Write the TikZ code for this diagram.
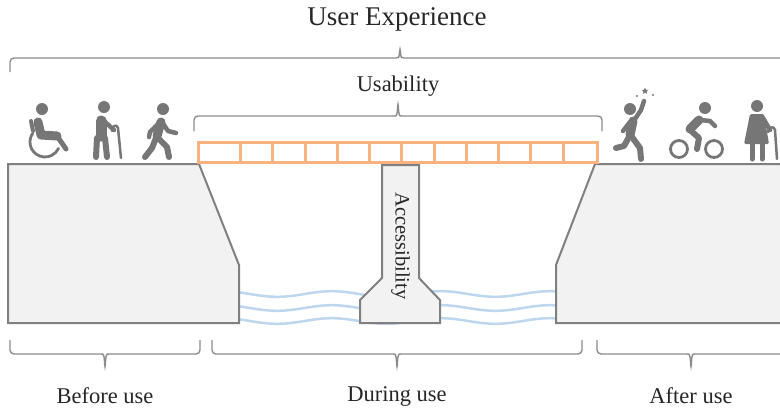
\documentclass[tikz,border=0pt]{standalone}
\usepackage{fontspec}
\setmainfont{Liberation Serif}
\usetikzlibrary{calc,shapes.geometric}
\definecolor{bankgray}{RGB}{242,242,242}
\definecolor{edgegray}{RGB}{128,128,128}
\definecolor{icongray}{RGB}{118,118,118}
\definecolor{deckorange}{RGB}{248,178,128}
\definecolor{waterblue}{RGB}{189,215,238}
\definecolor{bracegray}{RGB}{140,140,140}
\tikzset{%
  bank/.style={draw=edgegray, fill=bankgray, line width=2pt},% banks and pier
  deck/.style={draw=deckorange, line width=3pt},% bridge deck
  wave/.style={draw=waterblue, line width=2.5pt},% river
  brace line/.style={draw=bracegray, line width=1.4pt, rounded corners=4pt},% curly braces
  heading/.style={font=\fontsize{27pt}{31pt}\selectfont, text=black!85},
  stage/.style={font=\fontsize{22.5pt}{26pt}\selectfont, text=black!85},
  limb/.style={draw=icongray, line cap=round, line join=round, line width=#1},% pictogram strokes
  limb/.default=5pt,
  headfill/.style={fill=icongray}% pictogram heads
}
% brace: ends x1, x2; tip x; end y; bar y; tip y
\newcommand*{\spanbrace}[6]{%
  \draw[brace line] (#1,#4) -- (#1,#5) -- (#3-8,#5) .. controls (#3-1,#5) .. (#3,#6)
    .. controls (#3+1,#5) .. (#3+8,#5) -- (#2,#5) -- (#2,#4);}

\begin{document}
\begin{tikzpicture}[x=1pt, y=-1pt]
\useasboundingbox (0,0) rectangle (780,410);

% river
\foreach \wy in {294,308,321}
  \draw[wave] plot[domain=239:556, samples=90, smooth] (\x, {\wy+2.8*sin((\x-250)*3.3)});

% banks and pier
\draw[bank] (8,164) -- (199,164) -- (239,265) -- (239,323) -- (8,323) -- cycle;
\draw[bank] (595,164) -- (790,164) -- (790,323) -- (556,323) -- (556,265) -- cycle;
\draw[bank] (382,165) -- (382,278) -- (360,300) -- (360,323) -- (440,323) -- (440,300)
  -- (419,278) -- (419,165) -- cycle;
\node[stage, rotate=-90, font=\fontsize{20.5pt}{24pt}\selectfont] (access) at (400.5,246) {Accessibility};

% deck
\draw[deck] (198,142) rectangle (597,162);
\foreach \k in {0,...,10}
  \draw[deck] (240.7+\k*32.25,142) -- (240.7+\k*32.25,162);

% braces and their labels
\node[heading] (ux) at (397,19) {User Experience};
\spanbrace{10}{790}{400}{72}{58}{47}
\node[stage] (usab) at (398,86) {Usability};
\spanbrace{194}{602}{398}{131}{116}{102}
\spanbrace{10}{200}{105}{340}{354}{369}
\spanbrace{212}{582}{397}{340}{354}{369}
\spanbrace{597}{790}{691}{340}{354}{369}
\node[stage] (before) at (105,396) {Before use};
\node[stage] (during) at (397,396) {During use};
\node[stage] (after) at (691,396) {After use};

% wheelchair user
\fill[headfill] (42,109) circle (6);
\draw[limb=9pt] (38,122) -- (41,135) -- (57,136);
\draw[limb=5pt] (57,136) -- (66,149);
\draw[limb=4pt] (31,121) -- (33,131);
\draw[limb=2.8pt] (45,142) ++(215:15) arc[start angle=215, end angle=25, radius=15];

% man with cane
\fill[headfill] (104,107) circle (6);
\draw[limb=11pt] (101,121) -- (101,136);
\draw[limb=6pt] (97,138) -- (96,157) (105,138) -- (107,157);
\draw[limb=4.5pt] (104,121) -- (114,130);
\draw[limb=2.5pt] (112,131) .. controls (112,125) and (117,124) .. (118,128) -- (121,158);

% walker
\fill[headfill] (163,109) circle (6);
\draw[limb=9pt] (161,122) -- (157,136);
\draw[limb=4.5pt] (162,122) -- (168,131) -- (176,133);
\draw[limb=4.5pt] (158,124) -- (150,132) -- (149,137);
\draw[limb=6pt] (156,138) -- (152,148) -- (145,157);
\draw[limb=6pt] (158,138) -- (167,147) -- (169,157);

% cheering runner
\fill[headfill] (630,109) circle (6);
\node[star, star points=5, star point ratio=2.2, fill=icongray, inner sep=0pt, minimum size=7pt] (spark) at (645,91) {};
\fill[icongray] (637,96) circle (1.2) (653,95) circle (1.2);
\draw[limb=9pt] (633,121) -- (630,135);
\draw[limb=4.5pt] (635,119) -- (641,110) -- (644,101);
\draw[limb=4.5pt] (630,122) -- (623,131);
\draw[limb=6pt] (629,137) -- (624,146) -- (616,148);
\draw[limb=6pt] (632,137) -- (640,148) -- (641,159);

% cyclist
\draw[limb=2.8pt] (679,149) circle (8.5) (714,149) circle (8.5);
\fill[headfill] (705,108) circle (6);
\draw[limb=9pt] (699,120) -- (690,129);
\draw[limb=4.5pt] (700,120) -- (710,121) -- (715,126);
\draw[limb=6pt] (690,130) -- (699,138) -- (697,149);

% woman with cane
\fill[headfill] (757,106) circle (6);
\fill[icongray, rounded corners=1.5pt] (750,114) -- (764,114) -- (769,144) -- (744,144) -- cycle;
\draw[limb=5pt] (752,142) -- (752,159) (762,142) -- (762,159);
\draw[limb=4.5pt] (763,118) -- (770,130);
\draw[limb=2.5pt] (768,132) .. controls (769,126) and (774,126) .. (775,130) -- (777,159);
\end{tikzpicture}
\end{document}
